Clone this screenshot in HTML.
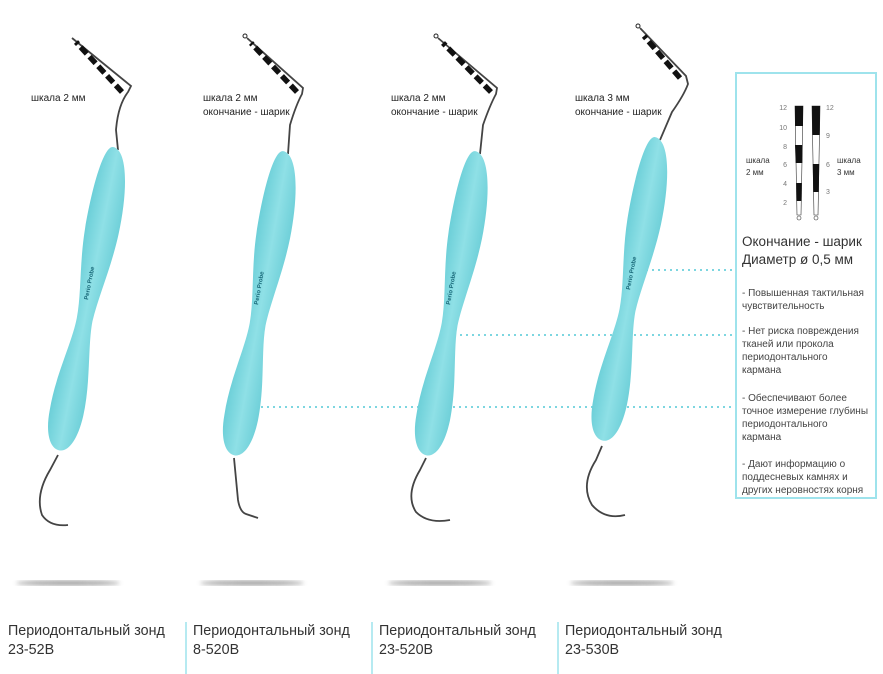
<!DOCTYPE html>
<html><head><meta charset="utf-8"><style>
body{margin:0;background:#fff;}
svg{display:block;font-family:"Liberation Sans",sans-serif;}
</style></head><body>
<svg width="883" height="674" viewBox="0 0 883 674" xmlns="http://www.w3.org/2000/svg">
<defs>
<path id="h" d="M -5,0 C 10,0 18,40 17,85 C 16,120 9,150 8,175 C 8,200 18,235 17,270 C 16,295 9,308 0,308 C -9,308 -17,295 -17,270 C -18,235 -8,200 -8,175 C -8,150 -16,120 -17,85 C -18,40 -14,0 -5,0 Z"/>
<linearGradient id="g" x1="0" x2="1" y1="0" y2="0">
<stop offset="0" stop-color="#6ccfd8"/><stop offset="0.5" stop-color="#8fe0e6"/><stop offset="1" stop-color="#6fd0d9"/></linearGradient>
<filter id="b"><feGaussianBlur stdDeviation="2"/></filter>
</defs>
<g fill="#888" filter="url(#b)" opacity="0.8">
<ellipse cx="68" cy="583" rx="52" ry="2.5"/><ellipse cx="252" cy="583" rx="52" ry="2.5"/>
<ellipse cx="440" cy="583" rx="52" ry="2.5"/><ellipse cx="622" cy="583" rx="52" ry="2.5"/>
</g>
<g stroke="#7dd6e0" stroke-width="2" stroke-dasharray="2 4">
<line x1="640" y1="270" x2="735" y2="270"/><line x1="460" y1="335" x2="735" y2="335"/><line x1="255" y1="407" x2="735" y2="407"/>
</g>
<g fill="none" stroke="#444" stroke-width="1.8">
<path d="M118,150 L116,130 Q118,105 128,92 L131,86 L72,38"/>
<path d="M58,455 L50,470 Q35,495 42,515 Q50,527 68,525"/>
<path d="M288,154 L290,125 Q296,105 302,94 L303,88 L247,38"/>
<path d="M234,458 L238,500 Q240,512 246,514 L258,518"/>
<path d="M480,154 L483,125 Q490,105 496,94 L497,88 L438,38"/>
<path d="M426,458 L420,470 Q405,495 416,512 Q428,524 450,520"/>
<path d="M660,140 L672,112 Q684,95 688,84 L686,76 L640,28"/>
<path d="M602,446 L596,460 Q580,485 592,505 Q605,520 625,515"/>
</g>
<g stroke="#111" stroke-width="5.5" stroke-dasharray="9 4">
<line x1="122" y1="92" x2="76" y2="42"/><line x1="297" y1="92" x2="251" y2="43"/>
<line x1="491" y1="92" x2="443" y2="43"/><line x1="680" y1="78" x2="644" y2="36"/>
</g>
<g fill="#fff" stroke="#222" stroke-width="1"><circle cx="245" cy="36" r="2"/><circle cx="436" cy="36" r="2"/><circle cx="638" cy="26" r="2"/></g>
<g fill="url(#g)">
<use href="#h" transform="translate(118,148) rotate(11)"/>
<use href="#h" transform="translate(288,152) rotate(10)"/>
<use href="#h" transform="translate(480,152) rotate(10)"/>
<use href="#h" transform="translate(660,138) rotate(10.7)"/>
</g>
<g font-size="6" fill="#1a6a7a" font-weight="bold">
<text transform="translate(88,300) rotate(-79)">Perio Probe</text>
<text transform="translate(258,305) rotate(-80)">Perio Probe</text>
<text transform="translate(450,305) rotate(-80)">Perio Probe</text>
<text transform="translate(630,290) rotate(-79)">Perio Probe</text>
</g>
<g font-size="10" fill="#222">
<text x="31" y="101">шкала 2 мм</text>
<text x="203" y="101">шкала 2 мм</text><text x="203" y="115">окончание - шарик</text>
<text x="391" y="101">шкала 2 мм</text><text x="391" y="115">окончание - шарик</text>
<text x="575" y="101">шкала 3 мм</text><text x="575" y="115">окончание - шарик</text>
</g>
<rect x="736" y="73" width="140" height="425" fill="none" stroke="#9ee3ec" stroke-width="2"/>
<g font-size="7" fill="#777" text-anchor="end">
<text x="787" y="110">12</text><text x="787" y="130">10</text><text x="787" y="149">8</text><text x="787" y="167">6</text><text x="787" y="186">4</text><text x="787" y="205">2</text>
</g>
<g font-size="7" fill="#777"><text x="826" y="110">12</text><text x="826" y="138">9</text><text x="826" y="167">6</text><text x="826" y="194">3</text></g>
<g font-size="8" fill="#333"><text x="746" y="163">шкала</text><text x="746" y="175">2 мм</text><text x="837" y="163">шкала</text><text x="837" y="175">3 мм</text></g>
<g stroke="#333" stroke-width="0.6" fill="#fff">
<path d="M795,106 L803,106 L801,215 L797,215 Z"/><path d="M812,106 L820,106 L818,215 L814,215 Z"/>
<circle cx="799" cy="218" r="2"/><circle cx="816" cy="218" r="2"/>
</g>
<g fill="#111">
<path d="M795,106 L803,106 L803,126 L795,126 Z"/><path d="M795,145 L802.5,145 L802.3,163 L795.7,163 Z"/><path d="M796.2,183 L801.8,183 L801.6,201 L796.4,201 Z"/>
<path d="M812,106 L820,106 L819.7,135 L812.3,135 Z"/><path d="M812.8,164 L819.2,164 L818.8,192 L813.2,192 Z"/>
</g>
<g fill="#333" font-size="13.5"><text x="742" y="246">Окончание - шарик</text><text x="742" y="264">Диаметр ø 0,5 мм</text></g>
<g fill="#444" font-size="10">
<text x="742" y="296">- Повышенная тактильная</text><text x="742" y="309">чувствительность</text>
<text x="742" y="334">- Нет риска повреждения</text><text x="742" y="347">тканей или прокола</text><text x="742" y="360">периодонтального</text><text x="742" y="373">кармана</text>
<text x="742" y="401">- Обеспечивают более</text><text x="742" y="414">точное измерение глубины</text><text x="742" y="427">периодонтального</text><text x="742" y="440">кармана</text>
<text x="742" y="467">- Дают информацию о</text><text x="742" y="480">поддесневых камнях и</text><text x="742" y="493">других неровностях корня</text>
</g>
<g stroke="#9ee3ec" stroke-width="1.5"><line x1="186" y1="622" x2="186" y2="674"/><line x1="372" y1="622" x2="372" y2="674"/><line x1="558" y1="622" x2="558" y2="674"/></g>
<g fill="#333" font-size="14.3">
<text x="8" y="635">Периодонтальный зонд</text><text x="8" y="654">23-52B</text>
<text x="193" y="635">Периодонтальный зонд</text><text x="193" y="654">8-520B</text>
<text x="379" y="635">Периодонтальный зонд</text><text x="379" y="654">23-520B</text>
<text x="565" y="635">Периодонтальный зонд</text><text x="565" y="654">23-530B</text>
</g>
</svg>
</body></html>
